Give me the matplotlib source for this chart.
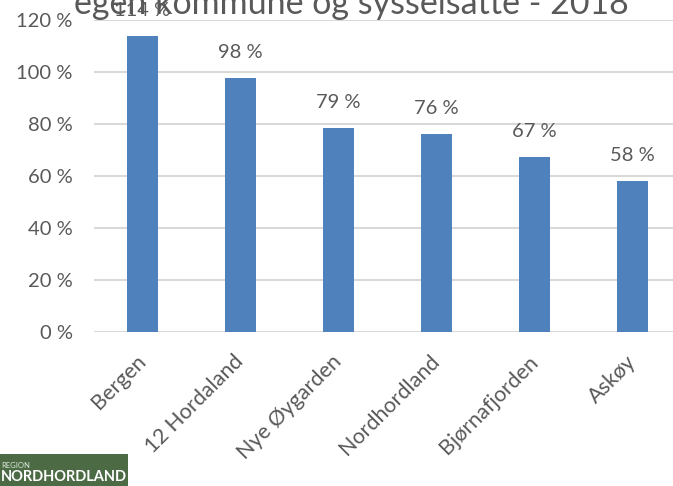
import matplotlib
matplotlib.use("Agg")
import matplotlib.pyplot as plt
from matplotlib.patches import Rectangle
from matplotlib.ticker import FuncFormatter
from matplotlib.transforms import ScaledTranslation

categories = ["Bergen", "12 Hordaland", "Nye Øygarden", "Nordhordland", "Bjørnafjorden", "Askøy"]
values = [113.8, 97.7, 78.4, 76.0, 67.2, 57.9]
labels = ["114 %", "98 %", "79 %", "76 %", "67 %", "58 %"]
yticks = [0, 20, 40, 60, 80, 100, 120]
title = "egen kommune og sysselsatte - 2018"

W, H = 673, 486
fig = plt.figure(figsize=(W / 100, H / 100), dpi=100)
plt.rcParams['font.family'] = ['Lato', 'DejaVu Sans']

left, right = 93.5, 681.5
top, bottom = 20, 332
ax = fig.add_axes([left / W, 1 - bottom / H, (right - left) / W, (bottom - top) / H])

x = list(range(len(categories)))
ax.bar(x, values, width=0.32, color="#4f81bd", zorder=3)
ax.set_xlim(-0.5, len(categories) - 0.5)
ax.set_ylim(0, 120)
ax.set_yticks(yticks)
ax.yaxis.set_major_formatter(FuncFormatter(lambda v, p: f"{int(v)} %"))
ax.grid(axis="y", color="#d9d9d9", lw=1.5, zorder=0)
for s in ax.spines.values():
    s.set_visible(False)
ax.tick_params(axis="both", length=0, labelsize=14.5, colors="#595959")
ax.tick_params(axis="y", pad=15)
ax.set_xticks(x)
ax.set_xticklabels(categories, rotation=45, ha="right", rotation_mode="anchor",
                   fontsize=15.5)
ax.tick_params(axis="x", pad=14)
shift = ScaledTranslation(-7 / 100, 0, fig.dpi_scale_trans)
for t in ax.get_xticklabels():
    t.set_transform(t.get_transform() + shift)

for xi, v, lab in zip(x, values, labels):
    ax.annotate(lab, (xi, v), xytext=(0, 17), textcoords="offset pixels",
                ha="center", va="bottom", fontsize=14.5, color="#595959")

fig.text(351 / W, 1 - 14 / H, title, ha="center", va="baseline",
         fontsize=24.5, color="#595959", zorder=0)

# logo
logo = Rectangle((0, 0), 128 / W, 32 / H, transform=fig.transFigure,
                 facecolor="#4c6b45", edgecolor="none")
fig.patches.append(logo)
fig.text(1 / W, 1 - 465 / H, "REGION", fontsize=5.5, color="#dfe8dc",
         ha="left", va="center")
fig.text(1 / W, 1 - 477 / H, "NORDHORDLAND", fontsize=10.5, color="white",
         fontweight="bold", ha="left", va="center")

fig.savefig("out.png", dpi=100)
